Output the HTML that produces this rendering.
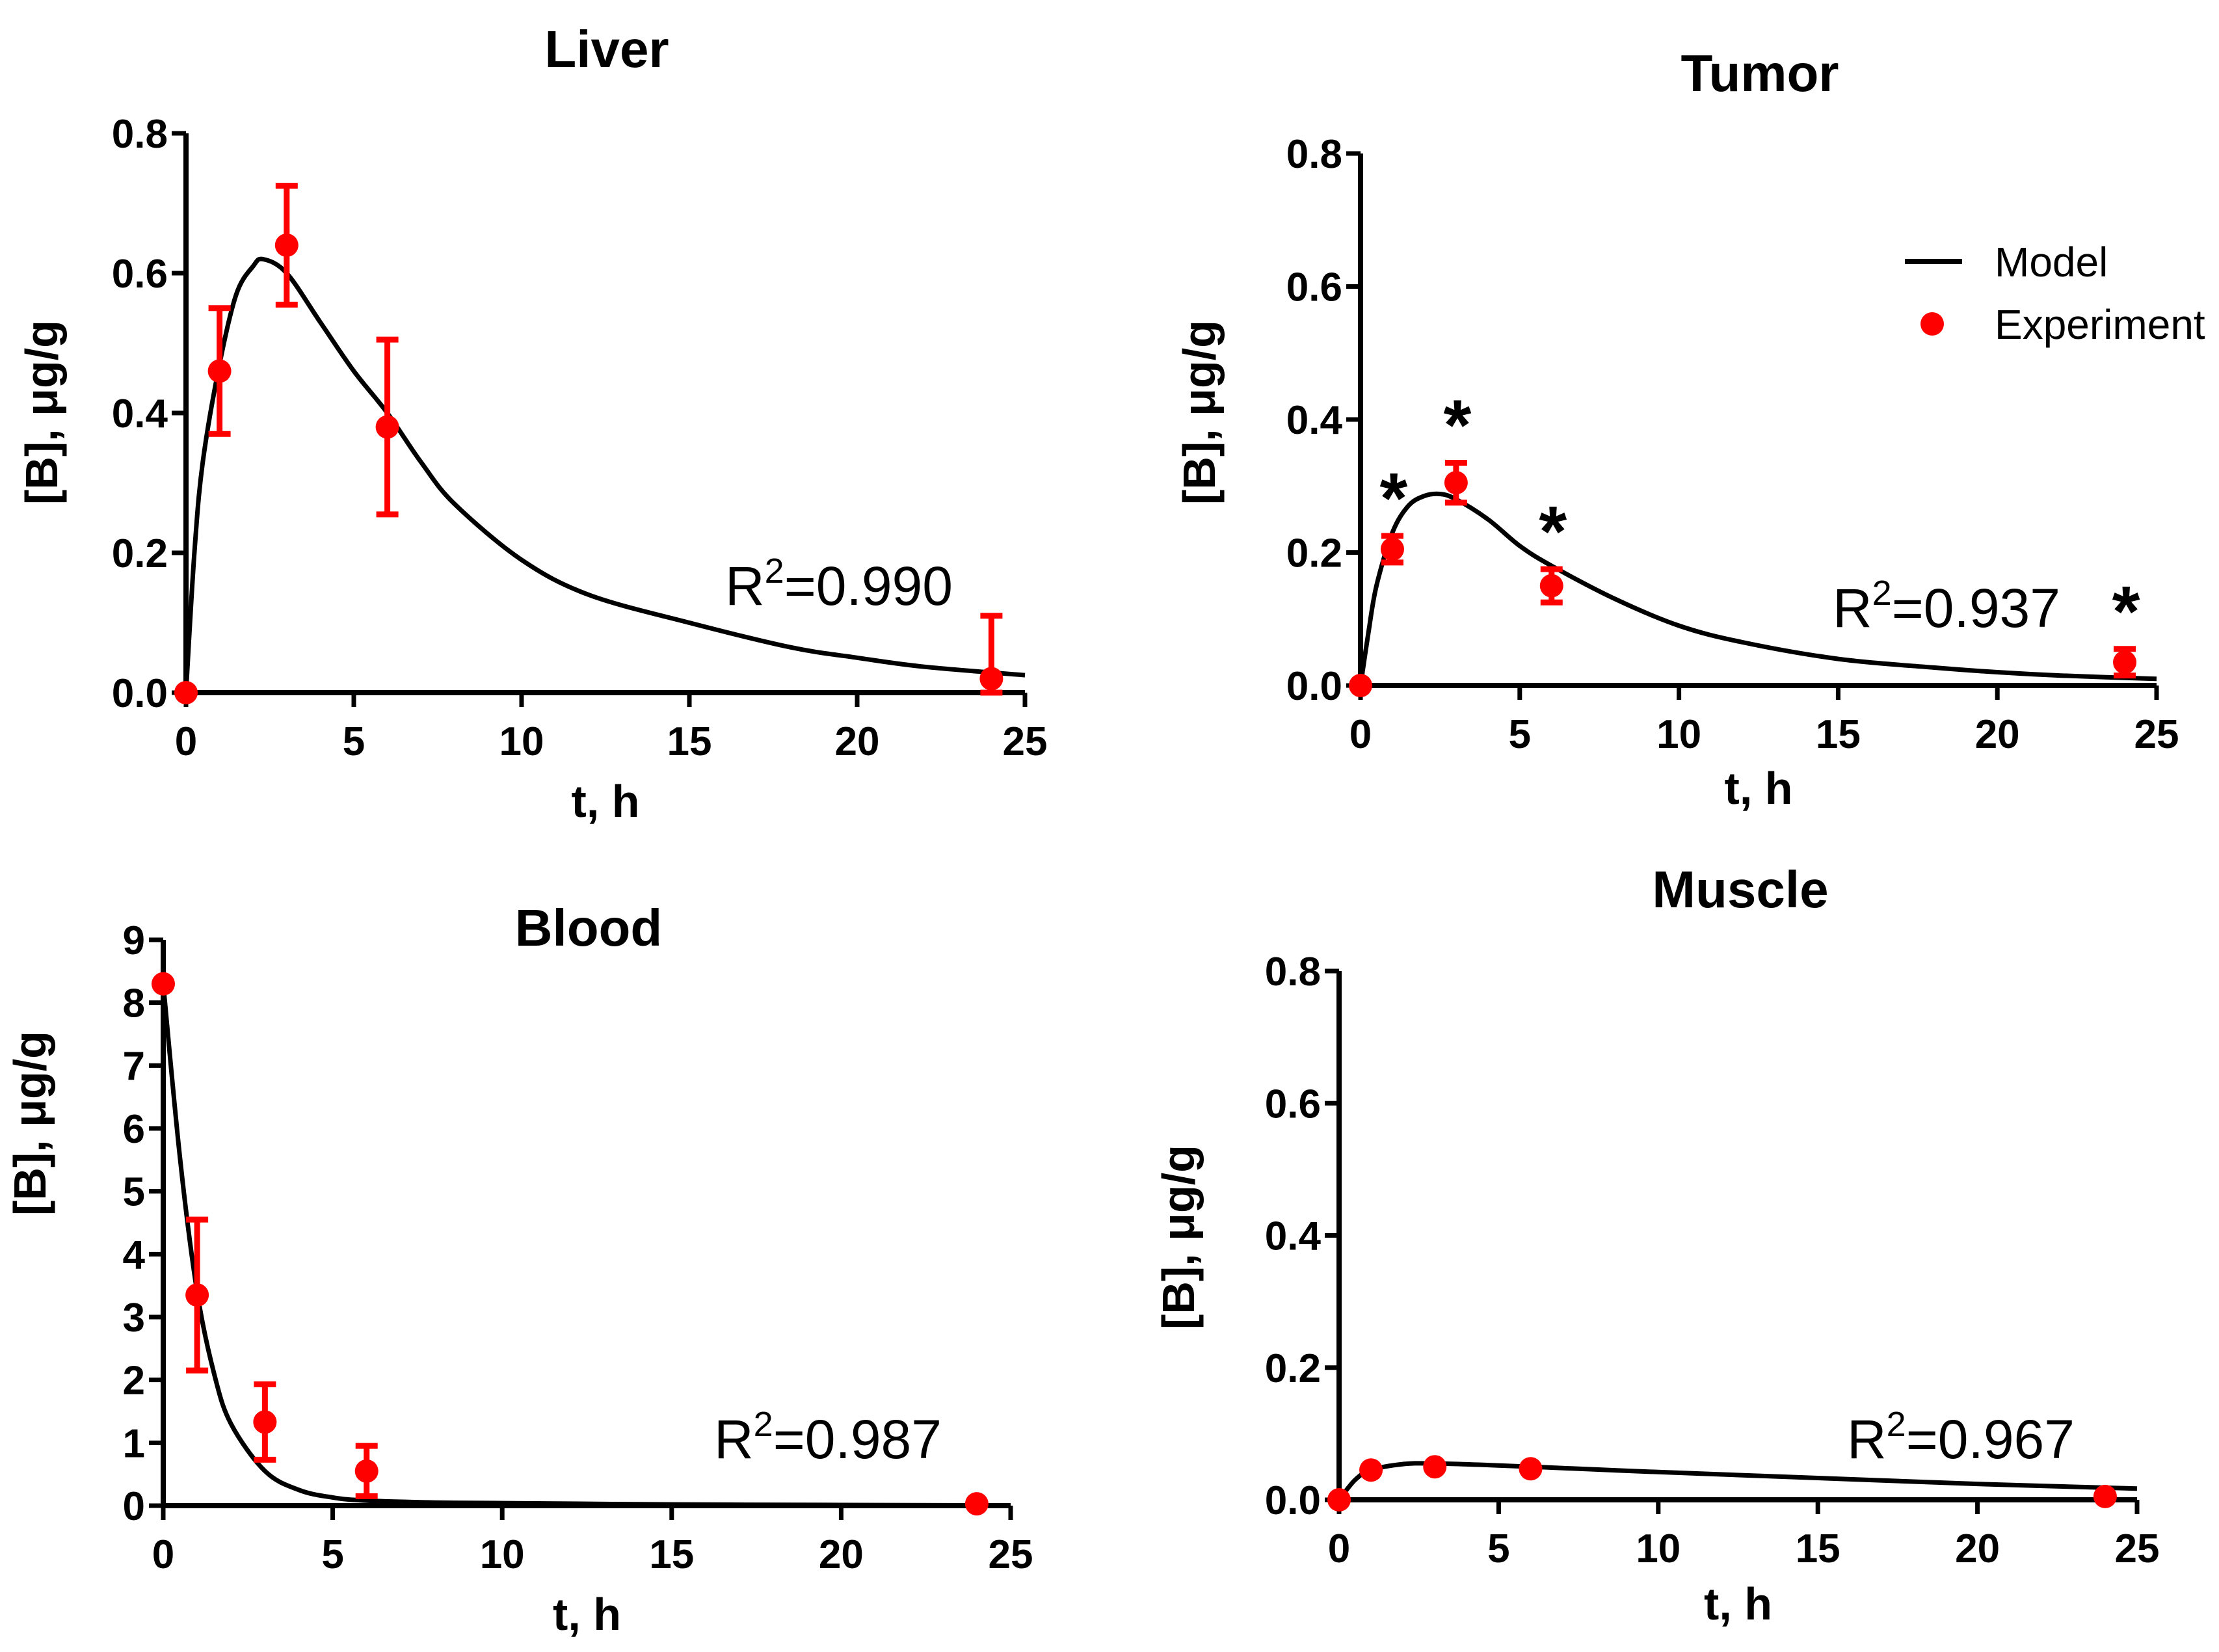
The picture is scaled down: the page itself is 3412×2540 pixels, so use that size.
<!DOCTYPE html>
<html><head><meta charset="utf-8"><style>
html,body{margin:0;padding:0;background:#fff;}
svg{display:block;}
text{font-family:"Liberation Sans",Arial,sans-serif;}
.tick{font-size:62px;font-weight:bold;}
.ttl{font-size:80px;font-weight:bold;}
.ax{font-size:70px;font-weight:bold;}
.r2{font-size:84px;}
.leg{font-size:64px;}
</style></head><body>
<svg id="chart" width="3412" height="2540" viewBox="0 0 3412 2540" xmlns="http://www.w3.org/2000/svg"></svg>
<script>
// ---- data ----
const liverT = [0,1,3,6,24];
const liverY = [0,0.46,0.64,0.38,0.02];
const liverErr = [0,0.09,0.085,0.125,0.09];
const liverModelT = [0,0.25,0.5,1,1.5,2,2.3,3,4,5,6,7,8,10,12,15,18,20,22,25];
const liverModelY = [0,0.2,0.33,0.47,0.57,0.61,0.62,0.60,0.53,0.46,0.40,0.33,0.27,0.19,0.14,0.10,0.065,0.05,0.037,0.025];

const tumorT = [0,1,3,6,24];
const tumorY = [0,0.205,0.305,0.15,0.035];
const tumorErr = [0,0.02,0.03,0.025,0.02];
const tumorStars = [false,true,true,true,true];
const tumorModelT = [0,0.25,0.5,1,1.5,2,2.5,3,4,5,6,8,10,12,15,18,20,22,25];
const tumorModelY = [0,0.08,0.15,0.23,0.27,0.285,0.288,0.28,0.25,0.21,0.18,0.13,0.09,0.065,0.04,0.027,0.02,0.015,0.01];

const bloodT = [0,1,3,6,24];
const bloodY = [8.3,3.35,1.33,0.55,0.03];
const bloodErr = [0,1.2,0.6,0.4,0];
const bloodModelT = [0,0.5,1,1.5,2,3,4,5,6,8,10,15,20,24];
const bloodModelY = [8.3,5.5,3.4,2.1,1.3,0.55,0.25,0.13,0.08,0.05,0.04,0.02,0.01,0.005];

const muscleT = [0,1,3,6,24];
const muscleY = [0,0.045,0.05,0.047,0.005];
const muscleErr = [0,0,0,0,0];
const muscleModelT = [0,0.5,1,2,3,5,8,10,15,20,25];
const muscleModelY = [0,0.03,0.045,0.054,0.055,0.052,0.046,0.042,0.033,0.024,0.017];

const xTicks = [0,5,10,15,20,25];
const xTickLabels = ["0","5","10","15","20","25"];
const smallYTicks = [0,0.2,0.4,0.6,0.8];
const smallYTickLabels = ["0.0","0.2","0.4","0.6","0.8"];
const bloodYTicks = [0,1,2,3,4,5,6,7,8,9];
const bloodYTickLabels = ["0","1","2","3","4","5","6","7","8","9"];

const NS="http://www.w3.org/2000/svg";
const svg=document.getElementById('chart');
function mk(tag,attrs,parent){const e=document.createElementNS(NS,tag);for(const k in attrs)e.setAttribute(k,attrs[k]);(parent||svg).appendChild(e);return e;}

function smooth(pts){
  let d='M'+pts[0][0].toFixed(1)+','+pts[0][1].toFixed(1);
  for(let i=0;i<pts.length-1;i++){
    const p0=pts[Math.max(0,i-1)],p1=pts[i],p2=pts[i+1],p3=pts[Math.min(pts.length-1,i+2)];
    const c1x=p1[0]+(p2[0]-p0[0])/6,c1y=p1[1]+(p2[1]-p0[1])/6;
    const c2x=p2[0]-(p3[0]-p1[0])/6,c2y=p2[1]-(p3[1]-p1[1])/6;
    d+=`C${c1x.toFixed(1)},${c1y.toFixed(1)} ${c2x.toFixed(1)},${c2y.toFixed(1)} ${p2[0].toFixed(1)},${p2[1].toFixed(1)}`;
  }
  return d;
}

function panel(cfg){
  const g=mk('g',{});
  
  
  const sx=v=>cfg.x0+(v-0)/(25-0)*(cfg.x1-cfg.x0);
  const sy=v=>cfg.y0-(v-0)/(cfg.ymax)*(cfg.y0-cfg.y1);
  const t=mk('text',{x:cfg.tx,y:cfg.ty,'text-anchor':'middle','class':'ttl'},g);t.textContent=cfg.title;
  
  
  const ya=mk('line',{x1:cfg.x0,y1:cfg.y1,x2:cfg.x0,y2:cfg.y0+4,stroke:'#000','stroke-width':8},g);
  
  
  const xa=mk('line',{x1:cfg.x0-4,y1:cfg.y0,x2:cfg.x1,y2:cfg.y0,stroke:'#000','stroke-width':8},g);
  
  
  cfg.yTicks.forEach((v,i)=>{
    mk('line',{x1:cfg.x0-22,y1:sy(v),x2:cfg.x0,y2:sy(v),stroke:'#000','stroke-width':7},g);
    const l=mk('text',{x:cfg.x0-28,y:sy(v)+22,'text-anchor':'end','class':'tick'},g);l.textContent=cfg.yLabels[i];
    
    
  });
  xTicks.forEach((v,i)=>{
    mk('line',{x1:sx(v),y1:cfg.y0,x2:sx(v),y2:cfg.y0+22,stroke:'#000','stroke-width':7},g);
    const l=mk('text',{x:sx(v),y:cfg.y0+96,'text-anchor':'middle','class':'tick'},g);l.textContent=xTickLabels[i];
    
    
  });
  const xt=mk('text',{x:(cfg.x0+cfg.x1)/2,y:cfg.xty,'text-anchor':'middle','class':'ax'},g);xt.textContent='t, h';
  
  
  const yt=mk('text',{x:0,y:0,'text-anchor':'middle','class':'ax',transform:`translate(${cfg.ytx},${cfg.yty}) rotate(-90)`},g);yt.textContent='[B], \u03bcg/g';
  
  
  const pts=cfg.mT.map((v,i)=>[sx(v),sy(cfg.mY[i])]);
  const p=mk('path',{d:smooth(pts),fill:'none',stroke:'#000','stroke-width':7,'stroke-linejoin':'round'},g);
  
  
  cfg.T.forEach((v,i)=>{
    const e=cfg.E[i];
    if(e>0){
      const lo=Math.max(0,cfg.Y[i]-e),hi=cfg.Y[i]+e;
      const eb=mk('path',{d:`M${sx(v)},${sy(lo)}L${sx(v)},${sy(hi)}M${sx(v)-17},${sy(hi)}L${sx(v)+17},${sy(hi)}M${sx(v)-17},${sy(lo)}L${sx(v)+17},${sy(lo)}`,stroke:'#f00','stroke-width':9,fill:'none'},g);
      
      
    }
    const c=mk('circle',{cx:sx(v),cy:sy(cfg.Y[i]),r:18,fill:'#f00'},g);
    
    
    if(cfg.stars&&cfg.stars[i]){
      const s=mk('text',{x:sx(v)+2,y:sy(cfg.Y[i]+e)-20,'text-anchor':'middle',style:'font-size:110px;font-weight:bold'},g);s.textContent='*';
      
      
    }
  });
  const r=mk('text',{x:cfg.rx,y:cfg.ry,'class':'r2'},g);
  
  
  r.innerHTML='R<tspan dy="-34" style="font-size:54px">2</tspan><tspan dy="34">='+cfg.r2+'</tspan>';
}

panel({name:'liver',title:'Liver',x0:286,x1:1576,y0:1065,y1:205,ymax:0.8,tx:933,ty:103,xty:1256,ytx:88,yty:634,
  yTicks:smallYTicks,yLabels:smallYTickLabels,T:liverT,Y:liverY,E:liverErr,mT:liverModelT,mY:liverModelY,rx:1115,ry:930,r2:'0.990'});
panel({name:'tumor',title:'Tumor',x0:2092,x1:3316,y0:1054,y1:236,ymax:0.8,tx:2706,ty:140,xty:1236,ytx:1868,yty:634,
  yTicks:smallYTicks,yLabels:smallYTickLabels,T:tumorT,Y:tumorY,E:tumorErr,mT:tumorModelT,mY:tumorModelY,rx:2818,ry:964,r2:'0.937',stars:tumorStars});
panel({name:'blood',title:'Blood',x0:251,x1:1554,y0:2315,y1:1445,ymax:9,tx:905,ty:1454,xty:2506,ytx:70,yty:1727,
  yTicks:bloodYTicks,yLabels:bloodYTickLabels,T:bloodT,Y:bloodY,E:bloodErr,mT:bloodModelT,mY:bloodModelY,rx:1098,ry:2242,r2:'0.987'});
panel({name:'muscle',title:'Muscle',x0:2059,x1:3286,y0:2306,y1:1493,ymax:0.8,tx:2676,ty:1395,xty:2490,ytx:1836,yty:1902,
  yTicks:smallYTicks,yLabels:smallYTickLabels,T:muscleT,Y:muscleY,E:muscleErr,mT:muscleModelT,mY:muscleModelY,rx:2840,ry:2242,r2:'0.967'});

const lg=mk('g',{});


const ll=mk('line',{x1:2929,y1:402,x2:3017,y2:402,stroke:'#000','stroke-width':8},lg);


const lt=mk('text',{x:3067,y:425,'class':'leg'},lg);lt.textContent='Model';


const lc=mk('circle',{cx:2971,cy:498,r:18,fill:'#f00'},lg);


const lt2=mk('text',{x:3067,y:521,'class':'leg'},lg);lt2.textContent='Experiment';


</script>
</body></html>
